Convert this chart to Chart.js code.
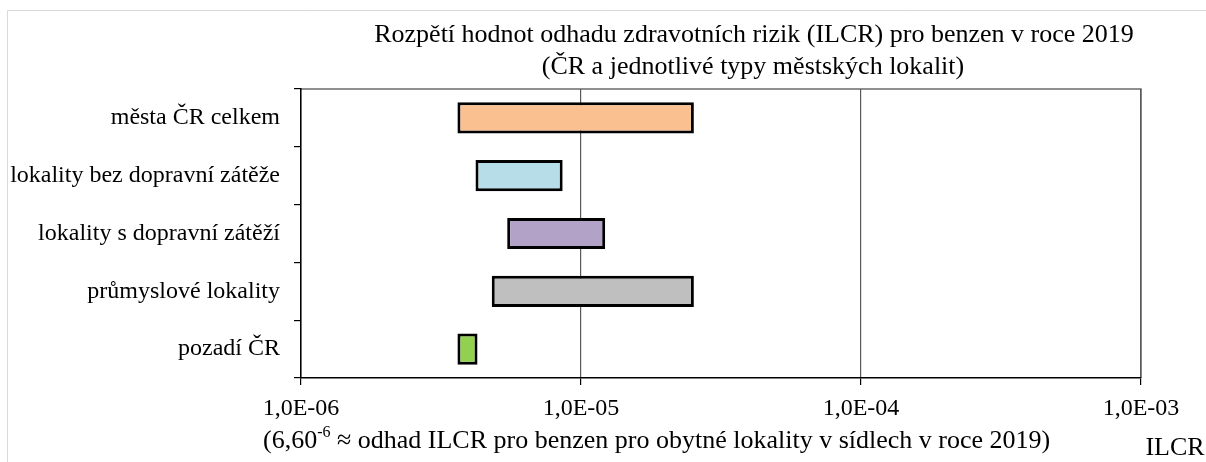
<!DOCTYPE html>
<html>
<head>
<meta charset="utf-8">
<script src="https://cdn.jsdelivr.net/npm/chart.js@4"></script>
<style>
  html, body { margin: 0; padding: 0; background: #fff; }
  #wrap { width: 1206px; height: 462px; }
</style>
</head>
<body>
<div id="wrap"><canvas id="rangeChart" width="1206" height="462"></canvas></div>
<script>
// data
const categories = [
  "města ČR celkem",
  "lokality bez dopravní zátěže",
  "lokality s dopravní zátěží",
  "průmyslové lokality",
  "pozadí ČR"
];
const rangeMin = [3.62e-6, 4.2e-6, 5.45e-6, 4.8e-6, 3.62e-6];
const rangeMax = [2.53e-5, 8.6e-6, 1.22e-5, 2.53e-5, 4.27e-6];
const barColors = ["#FAC090", "#B7DEE8", "#B3A2C7", "#BFBFBF", "#92D050"];
const tickValues = [1e-6, 1e-5, 1e-4, 1e-3];
const tickLabels = ["1,0E-06", "1,0E-05", "1,0E-04", "1,0E-03"];
const titleLines = [
  "Rozpětí hodnot odhadu zdravotních rizik (ILCR) pro benzen v roce 2019",
  "(ČR a jednotlivé typy městských lokalit)"
];
const noteParts = ["(6,60", "-6", " ≈ odhad ILCR pro benzen pro obytné lokality v sídlech v roce 2019)"];
const axisName = "ILCR";

const FONT = "'Liberation Serif', 'Times New Roman', serif";

// frame, titles and the note under the axis
const decorPlugin = {
  id: "decor",
  beforeDraw(chart) {
    const ctx = chart.ctx;
    const a = chart.chartArea;
    ctx.save();
    // outer light frame
    ctx.strokeStyle = "#d9d9d9";
    ctx.lineWidth = 1;
    ctx.beginPath();
    ctx.moveTo(7.5, 462);
    ctx.lineTo(7.5, 10.5);
    ctx.lineTo(1206, 10.5);
    ctx.stroke();
    // top and right border of the plot
    ctx.strokeStyle = "#6b6b6b";
    ctx.lineWidth = 1.5;
    ctx.beginPath();
    ctx.moveTo(a.left, a.top);
    ctx.lineTo(a.right, a.top);
    ctx.lineTo(a.right, a.bottom);
    ctx.stroke();
    ctx.restore();
  },
  afterDraw(chart) {
    const ctx = chart.ctx;
    ctx.save();
    ctx.fillStyle = "#000";
    ctx.font = "26px " + FONT;
    ctx.textAlign = "center";
    ctx.textBaseline = "middle";
    ctx.fillText(titleLines[0], 754, 35);
    ctx.fillText(titleLines[1], 753, 67);

    // note with superscript
    ctx.textAlign = "left";
    let x = 263;
    const y = 441;
    ctx.fillText(noteParts[0], x, y);
    x += ctx.measureText(noteParts[0]).width;
    ctx.font = "16px " + FONT;
    ctx.fillText(noteParts[1], x, y - 8);
    x += ctx.measureText(noteParts[1]).width;
    ctx.font = "26px " + FONT;
    ctx.fillText(noteParts[2], x, y);

    ctx.textAlign = "center";
    ctx.fillText(axisName, 1175, 448);
    ctx.restore();
  }
};

new Chart(document.getElementById("rangeChart"), {
  type: "bar",
  data: {
    labels: categories,
    datasets: [{
      data: categories.map((c, i) => [rangeMin[i], rangeMax[i]]),
      backgroundColor: barColors,
      borderColor: "#000",
      borderWidth: 3,
      borderSkipped: false,
      barPercentage: 0.54,
      categoryPercentage: 1
    }]
  },
  options: {
    indexAxis: "y",
    responsive: false,
    animation: false,
    layout: { padding: { top: 89, right: 65, left: 0, bottom: 0 } },
    plugins: {
      legend: { display: false },
      tooltip: { enabled: false },
      title: { display: false }
    },
    scales: {
      x: {
        type: "logarithmic",
        min: 1e-6,
        max: 1e-3,
        afterBuildTicks: (scale) => {
          scale.ticks = tickValues.map(v => ({ value: v }));
        },
        afterFit: (scale) => { scale.height = 84; },
        ticks: {
          autoSkip: false,
          maxRotation: 0,
          color: "#000",
          padding: 9,
          font: { family: FONT, size: 24 },
          callback: (value) => {
            const i = tickValues.findIndex(v => Math.abs(v - value) / v < 1e-6);
            return i >= 0 ? tickLabels[i] : "";
          }
        },
        grid: {
          color: "#595959",
          lineWidth: 1.2,
          tickLength: 7,
          tickColor: "#000"
        },
        border: { color: "#000", width: 1.5 }
      },
      y: {
        afterFit: (scale) => { scale.width = 301; },
        ticks: {
          color: "#000",
          padding: 14,
          font: { family: FONT, size: 24 }
        },
        grid: {
          offset: true,
          drawOnChartArea: false,
          tickLength: 7,
          tickColor: "#000",
          lineWidth: 1.2
        },
        border: { color: "#000", width: 1.5 }
      }
    }
  },
  plugins: [decorPlugin]
});
</script>
</body>
</html>
